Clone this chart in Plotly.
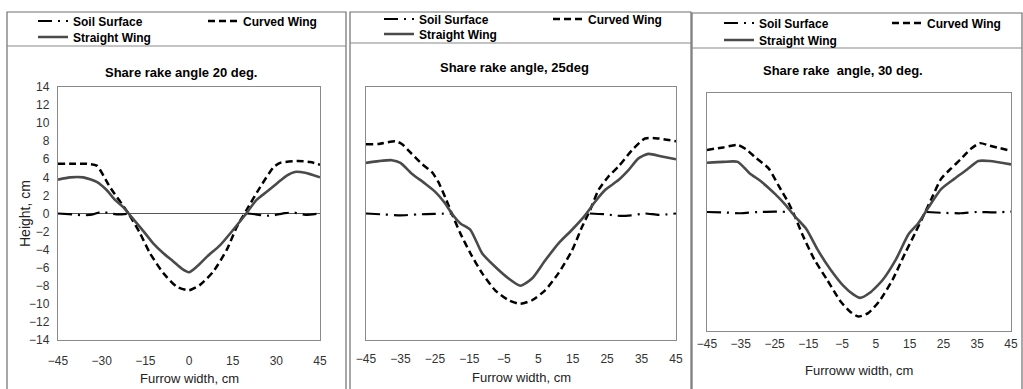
import plotly.graph_objects as go

W, H = 1023, 389
FONT = "Liberation Sans Narrow, Arial Narrow, Liberation Sans, Arial, sans-serif"

# ---------------- data ----------------
titles = ["Share rake angle 20 deg.", "Share rake angle, 25deg", "Share rake  angle, 30 deg."]
xtitles = ["Furrow width, cm", "Furrow width, cm", "Furroww width, cm"]
series_names = ["Soil Surface", "Curved Wing", "Straight Wing"]

tick_x1 = [-45, -30, -15, 0, 15, 30, 45]
tick_x23 = [-45, -35, -25, -15, -5, 5, 15, 25, 35, 45]
tick_y = [14, 12, 10, 8, 6, 4, 2, 0, -2, -4, -6, -8, -10, -12, -14]

# Panel 1 (20 deg)
soil1_x = [-45, -40, -36, -33, -30, -27, -24, -20, None, 20, 23, 26, 29, 33, 36, 40, 45]
soil1_y = [0, -0.1, -0.2, -0.1, 0.2, 0.0, -0.1, 0, None, 0, -0.1, -0.25, -0.2, 0.05, 0.1, -0.15, 0]
curved1_x = [-45, -40, -35, -31.7, -27.1, -20.8, -16.8, -13.4, -8.8, -4.2, 0, 3.8, 8.4, 13, 16.4, 19.8, 24.4, 29, 31.3, 37, 41.6, 45]
curved1_y = [5.5, 5.5, 5.5, 5.3, 2.9, 0, -2.2, -4.4, -6.6, -8.1, -8.5, -7.9, -6.4, -4.0, -1.5, 0.4, 2.9, 5.1, 5.6, 5.8, 5.7, 5.4]
straight1_x = [-45, -40.9, -36.3, -31.7, -28.3, -25.4, -22.6, -19.7, -16.3, -12.3, -8.8, -5.4, -2.5, 0, 2.6, 6.1, 10.7, 15.2, 19.2, 23.2, 26.7, 30.1, 33.6, 36.4, 39.9, 45]
straight1_y = [3.75, 4.0, 4.0, 3.5, 2.6, 1.5, 0.7, -0.4, -1.7, -3.3, -4.4, -5.3, -6.1, -6.5, -5.9, -4.8, -3.5, -1.8, -0.2, 1.5, 2.4, 3.3, 4.2, 4.6, 4.5, 4.0]

# Panel 2 (25 deg)
soil2_x = [-45, -40, -35, -30, -25, -20, None, 20, 25, 28, 32, 36, 40, 45]
soil2_y = [0, -0.1, -0.2, -0.1, -0.05, 0, None, 0, -0.1, -0.25, -0.2, 0, -0.15, 0]
curved2_x = [-45, -41.3, -36.5, -34.6, -31.7, -28.8, -25.9, -24, -22, -20.1, -17.6, -14.7, -11.3, -7.5, -3.6, -0.2, 3.2, 7.0, 10.9, 14.8, 17.7, 20.1, 22.5, 25.4, 28.3, 32.2, 36.0, 39.9, 45]
curved2_y = [7.66, 7.7, 8.0, 7.7, 6.6, 5.5, 4.6, 3.5, 1.8, 0, -2.2, -4.4, -6.6, -8.5, -9.6, -10.0, -9.6, -8.5, -6.6, -4.1, -1.5, 0.4, 2.6, 4.1, 5.2, 7.0, 8.3, 8.3, 8.0]
straight2_x = [-45, -41.3, -37.5, -35, -31.7, -27.8, -24.9, -22, -20.1, -17.6, -14.7, -11.3, -7.5, -3.6, -0.2, 3.2, 7.0, 10.9, 14.8, 18.6, 21.5, 24.4, 28.3, 31.2, 34.1, 37.0, 40.9, 45]
straight2_y = [5.6, 5.8, 5.9, 5.6, 4.4, 3.3, 2.4, 1.1, 0, -1.1, -1.8, -4.4, -5.9, -7.2, -8.0, -7.2, -5.2, -3.3, -1.8, -0.2, 1.3, 2.6, 3.7, 4.8, 6.1, 6.6, 6.3, 6.0]

# Panel 3 (30 deg)
soil3_x = [-45, -40, -35, -30, -25, -20, None, 20, 25, 30, 35, 40, 45]
soil3_y = [0, -0.05, -0.15, 0, 0.05, 0, None, 0, -0.1, -0.15, 0, -0.05, 0.05]
curved3_x = [-45, -40.2, -35.9, -33.5, -30.6, -26.7, -23.8, -20.9, -19, -16.6, -13.2, -9.4, -5.5, -2.7, -0.2, 2.7, 6.0, 9.9, 13.7, 16.6, 19.0, 21.4, 24.3, 27.2, 30.1, 33, 35.8, 38.7, 45]
curved3_y = [7.3, 7.6, 7.9, 7.4, 6.4, 5.1, 3.1, 1.1, -0.5, -2.8, -5.6, -8.0, -10.5, -11.7, -12.3, -11.9, -10.5, -8.0, -4.8, -2.5, -0.5, 1.5, 3.9, 5.1, 6.2, 7.4, 8.1, 7.8, 7.2]
straight3_x = [-45, -40.2, -35.9, -32.5, -28.7, -24.8, -21.9, -19, -15.6, -12.3, -8.4, -4.6, -1.7, 0.3, 3.2, 7.0, 10.9, 14.7, 17.6, 20.5, 24.3, 28.2, 32.0, 35.3, 38.7, 45]
straight3_y = [5.8, 5.9, 5.9, 4.6, 3.5, 2.1, 0.9, -0.5, -2.0, -4.4, -6.8, -8.7, -9.7, -10.1, -9.5, -8.0, -5.6, -2.6, -1.3, 0.5, 2.7, 3.9, 5.0, 6.0, 6.0, 5.6]

panels = [
    (soil1_x, soil1_y, curved1_x, curved1_y, straight1_x, straight1_y),
    (soil2_x, soil2_y, curved2_x, curved2_y, straight2_x, straight2_y),
    (soil3_x, soil3_y, curved3_x, curved3_y, straight3_x, straight3_y),
]

# ---------------- layout helpers ----------------
def px(x):
    return x / W

def py(y):
    return 1 - y / H

# plot areas in pixels: (left, right, top, bottom)
areas = [(58, 320, 87, 340), (366, 676, 87, 340), (707, 1011, 93, 331)]
title_pos = [(181, 73), (514, 68), (843, 70)]
xtitle_y = [378, 377, 370]
standoffs = [9, 7, 1]
# legend anchors: (soil text start x, row1 y, curved text start x, row2 y)
legend_pos = [(73, 21, 243, 37), (419, 19, 588, 34), (759, 23, 927, 40)]
boxes = [(7, 346, 12, 46), (350, 691, 12, 43), (692, 1022, 13, 48)]

styles = {
    "Soil Surface": dict(color="black", width=2.2, dash="14px,6px,2px,6px"),
    "Curved Wing": dict(color="black", width=2.5, dash="7px,4px"),
    "Straight Wing": dict(color="#4a4a4a", width=2.6, dash="solid"),
}

fig = go.Figure()
layout = {}
legend_idx = 0
for i, (sx, sy, cx, cy, stx, sty) in enumerate(panels):
    ax = "" if i == 0 else str(i + 1)
    l, r, t, b = areas[i]
    lx1, ly1, lx2, ly2 = legend_pos[i]
    specs = [
        ("Soil Surface", sx, sy, lx1, ly1),
        ("Curved Wing", cx, cy, lx2, ly1),
        ("Straight Wing", stx, sty, lx1, ly2),
    ]
    for name, xs, ys, tx, ty in specs:
        legend_idx += 1
        lg = "legend" if legend_idx == 1 else f"legend{legend_idx}"
        fig.add_trace(go.Scatter(
            x=xs, y=ys, mode="lines", name=name,
            line=dict(shape="spline", smoothing=0.6, **styles[name]),
            connectgaps=False, xaxis="x" + ax, yaxis="y" + ax,
            legend=lg, showlegend=True, hoverinfo="skip",
        ))
        layout[lg] = dict(
            x=px(tx - 40), y=py(ty), xanchor="left", yanchor="middle",
            bgcolor="rgba(0,0,0,0)", borderwidth=0,
            font=dict(family=FONT, size=12, color="black", weight="bold"),
            itemwidth=30, itemclick=False, itemdoubleclick=False,
        )
    layout["xaxis" + ax] = dict(
        domain=[px(l), px(r)], range=[-45, 45], anchor="y" + ax,
        tickvals=tick_x1 if i == 0 else tick_x23,
        ticks="", showgrid=False, zeroline=False,
        showline=True, mirror=True, linecolor="#8a8a8a", linewidth=1.2,
        tickfont=dict(family=FONT, size=12, color="#333"),
        ticklabelstandoff=standoffs[i], ticklabeloverflow="allow",
        automargin=False, fixedrange=True,
    )
    layout["yaxis" + ax] = dict(
        domain=[py(b), py(t)], range=[-14, 14], anchor="x" + ax,
        tickvals=tick_y, showticklabels=(i == 0),
        ticks="", showgrid=False,
        zeroline=(i == 0), zerolinecolor="#555", zerolinewidth=1,
        showline=True, mirror=True, linecolor="#8a8a8a", linewidth=1.2,
        tickfont=dict(family=FONT, size=12, color="#333"),
        ticklabelstandoff=5, automargin=False, fixedrange=True,
    )

annotations = []
for i in range(3):
    l, r, t, b = areas[i]
    tx, ty = title_pos[i]
    annotations.append(dict(
        text=titles[i], x=px(tx), y=py(ty), xref="paper", yref="paper",
        showarrow=False, xanchor="center", yanchor="middle",
        font=dict(family=FONT, size=13, color="black", weight="bold"),
    ))
    annotations.append(dict(
        text=xtitles[i], x=px((l + r) / 2), y=py(xtitle_y[i]), xref="paper", yref="paper",
        showarrow=False, xanchor="center", yanchor="middle",
        font=dict(family=FONT, size=13, color="#222"),
    ))
annotations.append(dict(
    text="Height, cm", x=px(25), y=py(214), xref="paper", yref="paper",
    showarrow=False, textangle=-90, xanchor="center", yanchor="middle",
    font=dict(family=FONT, size=14, color="#222"),
))

shapes = []
for (x0, x1, y0, yd) in boxes:
    shapes.append(dict(type="rect", xref="paper", yref="paper",
                       x0=px(x0), x1=px(x1), y0=py(y0), y1=py(H + 10),
                       line=dict(color="#6e6e6e", width=1.2)))
    shapes.append(dict(type="line", xref="paper", yref="paper",
                       x0=px(x0), x1=px(x1), y0=py(yd), y1=py(yd),
                       line=dict(color="#8a8a8a", width=1.2)))

fig.update_layout(
    width=W, height=H,
    margin=dict(l=0, r=0, t=0, b=0),
    paper_bgcolor="white", plot_bgcolor="white",
    hovermode=False,
    annotations=annotations, shapes=shapes,
    **layout,
)

fig.write_html(
    "out.html",
    config={"displayModeBar": False, "staticPlot": True},
    post_script="document.body.style.margin='0';document.body.style.overflow='hidden';",
)
